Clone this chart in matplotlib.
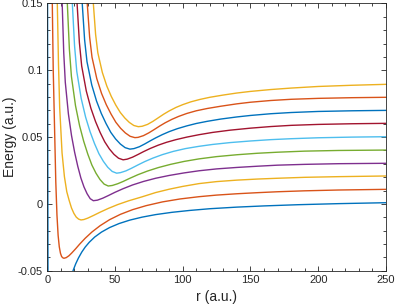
import matplotlib
matplotlib.use("Agg")
import matplotlib.pyplot as plt
from matplotlib.ticker import MultipleLocator

# MATLAB default colour order
colors = ['#0072BD', '#D95319', '#EDB120', '#7E2F8E', '#77AC30',
          '#4DBEEE', '#A2142F', '#0072BD', '#D95319', '#EDB120']

# values, one curve per list (r, energy)
r0 = [0.2, 0.5, 0.8, 8, 13, 15, 17, 19.2, 21, 23, 25.5, 28, 31, 35, 40, 46, 53, 61, 70, 80,
      92, 105, 120, 140, 160, 185, 215, 250]
e0 = [0.15, -0.05, -0.3, -0.13, -0.0755, -0.0648, -0.0565, -0.0495, -0.0448, -0.0405, -0.036,
      -0.0323, -0.0287, -0.0248, -0.0211, -0.0177, -0.0147, -0.0121, -0.0099, -0.008,
      -0.0063, -0.0049, -0.0036, -0.0024, -0.0015, -0.0006, 0.0002, 0.0009]

r1 = [3.7, 4.39, 5.42, 6.28, 7.14, 8.0, 8.86, 9.72, 10.58, 11.44, 12.3,
      14, 16, 18, 21, 24, 28, 33, 39, 46, 54, 63, 73, 85, 98, 112, 125, 140, 155, 170, 190, 215, 250]
e1 = [0.15, 0.1004, 0.0547, 0.0165, -0.0083, -0.0235, -0.0321, -0.0369, -0.0394, -0.0403, -0.0407,
      -0.0402, -0.0388, -0.0368, -0.0335, -0.03, -0.0257, -0.021, -0.0163, -0.0118, -0.0078,
      -0.0043, -0.0013, 0.0015, 0.0037, 0.0054, 0.0066, 0.0076, 0.0084, 0.0091, 0.0098, 0.0104, 0.0109]

r2 = [7.4, 8.275, 9.15, 10.9, 12.65, 14.4, 16.15, 17.9, 19.65, 21.4, 23.15, 24.9,
      27, 30, 34, 39, 45, 52, 60, 70, 80, 90, 100, 112, 125, 140, 155, 170, 190, 215, 250]
e2 = [0.15, 0.1046, 0.0722, 0.0382, 0.0204, 0.0091, 0.0026, -0.0031, -0.0071, -0.0099, -0.0114, -0.012,
      -0.0117, -0.0106, -0.0087, -0.0062, -0.0034, -0.0005, 0.0023, 0.0053, 0.0085, 0.011, 0.0131,
      0.0152, 0.0167, 0.0178, 0.0186, 0.0192, 0.0199, 0.0204, 0.0209]

r3 = [11, 12.15, 13.3, 15.6, 17.9, 20.2, 22.5, 24.8, 27.1, 29.4, 31.7, 34,
      37, 41, 45, 50, 56, 63, 71, 80, 90, 101, 112, 125, 140, 155, 170, 190, 215, 250]
e3 = [0.15, 0.1131, 0.091, 0.0673, 0.0511, 0.0386, 0.0282, 0.0194, 0.0127, 0.0076, 0.0039, 0.0024,
      0.0028, 0.0043, 0.0062, 0.0087, 0.0114, 0.0142, 0.0168, 0.0192, 0.0213, 0.0232, 0.0248,
      0.0262, 0.0273, 0.0282, 0.029, 0.0296, 0.0301, 0.0304]

r4 = [14.8, 16.31, 17.82, 20.84, 23.86, 26.88, 29.9, 32.92, 35.94, 38.96, 41.98, 45,
      48, 52, 56, 61, 67, 74, 82, 91, 101, 112, 125, 140, 155, 170, 190, 215, 250]
e4 = [0.15, 0.1159, 0.0954, 0.0735, 0.0585, 0.0469, 0.0373, 0.0291, 0.023, 0.0182, 0.0148, 0.0134,
      0.0138, 0.0151, 0.0168, 0.0192, 0.0219, 0.0246, 0.0272, 0.0296, 0.0318, 0.0337, 0.0354,
      0.0368, 0.0379, 0.0387, 0.0395, 0.04, 0.0403]

r5 = [18.5, 20.14, 21.77, 25.04, 28.31, 31.58, 34.85, 38.12, 41.39, 44.66, 47.93, 51.2,
      54, 58, 62, 67, 72, 78, 85, 93, 102, 112, 122, 135, 150, 165, 180, 200, 225, 250]
e5 = [0.15, 0.1183, 0.0992, 0.0789, 0.0649, 0.0541, 0.0452, 0.0376, 0.0319, 0.0274, 0.0243, 0.023,
      0.0234, 0.0247, 0.0266, 0.0292, 0.0317, 0.0343, 0.0369, 0.0393, 0.0414, 0.0431, 0.0445,
      0.0459, 0.0471, 0.0481, 0.0488, 0.0495, 0.05, 0.0503]

r6 = [22, 23.7, 25.4, 28.8, 32.2, 35.6, 39, 42.4, 45.8, 49.2, 52.6, 56,
      59, 63, 67, 71, 76, 82, 88, 95, 103, 112, 122, 135, 150, 165, 180, 200, 225, 250]
e6 = [0.15, 0.1208, 0.1032, 0.0845, 0.0716, 0.0617, 0.0535, 0.0465, 0.0412, 0.0371, 0.0342, 0.033,
      0.0335, 0.035, 0.037, 0.0391, 0.0415, 0.044, 0.0461, 0.0481, 0.05, 0.0518, 0.0535,
      0.0552, 0.0567, 0.0579, 0.0588, 0.0595, 0.06, 0.0603]

r7 = [25.8, 27.56, 29.32, 32.84, 36.36, 39.88, 43.4, 46.92, 50.44, 53.96, 57.48, 61,
      64, 68, 72, 76, 80, 85, 90, 96, 103, 110, 118, 128, 140, 150, 165, 180, 200, 225, 250]
e7 = [0.15, 0.1228, 0.1064, 0.089, 0.077, 0.0677, 0.0601, 0.0535, 0.0486, 0.0448, 0.0421, 0.041,
      0.0414, 0.0428, 0.0449, 0.0472, 0.0494, 0.0519, 0.0541, 0.0563, 0.0584, 0.0602, 0.0618,
      0.0635, 0.0651, 0.0662, 0.0675, 0.0684, 0.0692, 0.0697, 0.07]

r8 = [29.5, 31.26, 33.02, 36.54, 40.06, 43.58, 47.1, 50.62, 54.14, 57.66, 61.18, 64.7,
      67, 71, 75, 79, 83, 87, 92, 97, 103, 110, 118, 128, 140, 150, 165, 180, 200, 225, 250]
e8 = [0.15, 0.1249, 0.1098, 0.0938, 0.0827, 0.0742, 0.0672, 0.0611, 0.0566, 0.0531, 0.0506, 0.0496,
      0.0498, 0.0511, 0.0532, 0.0557, 0.0583, 0.0607, 0.0633, 0.0655, 0.0677, 0.0697, 0.0714,
      0.0731, 0.0749, 0.0761, 0.0774, 0.0783, 0.079, 0.0795, 0.0798]

r9 = [34, 35.66, 37.32, 40.64, 43.96, 47.28, 50.6, 53.92, 57.24, 60.56, 63.88, 67.2,
      70, 74, 78, 82, 86, 90, 95, 100, 106, 112.7, 120, 130, 140, 150, 165, 180, 200, 225, 250]
e9 = [0.15, 0.127, 0.1131, 0.0984, 0.0882, 0.0804, 0.0739, 0.0684, 0.0643, 0.061, 0.0587, 0.0578,
      0.0581, 0.0595, 0.0618, 0.0645, 0.0672, 0.0696, 0.0722, 0.0743, 0.0764, 0.0782, 0.0798,
      0.0815, 0.083, 0.0842, 0.0856, 0.0867, 0.0879, 0.0888, 0.0895]

curves = [(r0, e0), (r1, e1), (r2, e2), (r3, e3), (r4, e4),
          (r5, e5), (r6, e6), (r7, e7), (r8, e8), (r9, e9)]

plt.rcParams['font.family'] = ['Liberation Sans', 'DejaVu Sans']

fig = plt.figure(figsize=(3.95, 3.07), dpi=100)
ax = fig.add_axes([0.1197, 0.1182, 0.8573, 0.8704])

for (r, e), c in zip(curves, colors):
    ax.plot(r, e, color=c, linewidth=1.0)

ax.set_xlim(0, 250)
ax.set_ylim(-0.05, 0.15)
ax.xaxis.set_major_locator(MultipleLocator(50))
ax.xaxis.set_minor_locator(MultipleLocator(10))
ax.yaxis.set_major_locator(MultipleLocator(0.05))
ax.yaxis.set_minor_locator(MultipleLocator(0.01))
ax.set_yticks([-0.05, 0, 0.05, 0.1, 0.15])
ax.set_yticklabels(['-0.05', '0', '0.05', '0.1', '0.15'])

axis_gray = '#262626'
for side in ax.spines.values():
    side.set_color(axis_gray)
    side.set_linewidth(0.6)
ax.tick_params(which='both', direction='in', top=True, right=True,
               colors=axis_gray, labelsize=8, width=0.6, pad=3)
ax.tick_params(which='major', length=3.5)
ax.tick_params(which='minor', length=2)

ax.set_xlabel('r (a.u.)', fontsize=10, color=axis_gray)
ax.set_ylabel('Energy (a.u.)', fontsize=10, color=axis_gray)
ax.xaxis.set_label_coords(0.5, -0.098)
ax.yaxis.set_label_coords(-0.11, 0.5)
ax.xaxis.label.set_va('center')
ax.yaxis.label.set_va('center')

fig.savefig('out.png', dpi=100)
